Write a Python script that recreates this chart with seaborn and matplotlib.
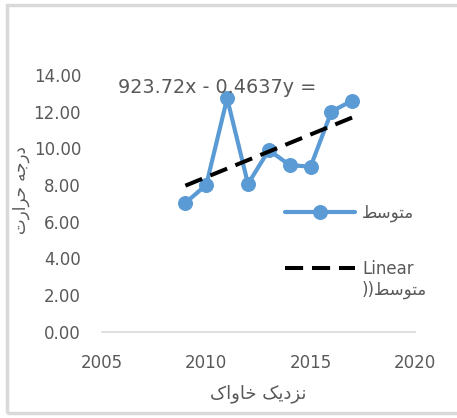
import numpy as np
import pandas as pd
import matplotlib
matplotlib.use("Agg")
import matplotlib.pyplot as plt
import seaborn as sns
from matplotlib.patches import Rectangle

# values
years = [2009, 2010, 2011, 2012, 2013, 2014, 2015, 2016, 2017]
avg_values = [7.03, 8.00, 12.72, 8.06, 9.90, 9.08, 9.00, 12.00, 12.60]
y_ticks = [0, 2, 4, 6, 8, 10, 12, 14]
x_ticks = [2005, 2010, 2015, 2020]

# Persian text in visual (pre-shaped) order, since matplotlib has no bidi shaping
label_avg = "\uFEC2\uFEB3\uFEEE\uFE98\uFEE3"                 # متوسط
label_trend = "Linear"
label_trend_2 = "))" + label_avg                             # second line: (متوسط)
x_title = "\uFB8E\uFE8D\uFEED\uFE8E\uFEA7 \uFB8F\uFBFE\uFEA9\uFEB0\uFEE7"  # نزدیک خاواک
y_title = "\uFE95\uFEAD\uFE8D\uFEAE\uFEA3 \uFEEA\uFE9F\uFEAD\uFEA9"         # درجه حرارت
equation = "923.72x - 0.4637y ="

df = pd.DataFrame({"year": years, "avg": avg_values})

sns.set_theme(style="white")
plt.rcParams['font.family'] = ['DejaVu Sans']
gray = "#595959"

fig = plt.figure(figsize=(4.57, 4.18), dpi=100)
ax = fig.add_axes([0.223, 0.206, 0.685, 0.615])

sns.lineplot(data=df, x="year", y="avg", ax=ax, color="#5B9BD5", linewidth=3.0,
             marker="o", markersize=10, markeredgecolor="#5B9BD5", label=label_avg)
sns.regplot(data=df, x="year", y="avg", ax=ax, scatter=False, ci=None, truncate=True,
            line_kws=dict(color="black", linewidth=2.9, linestyle=(0, (4.5, 2.2))),
            label=label_trend)

ax.set_xlim(2005, 2020)
ax.set_ylim(0, 14)
ax.set_xticks(x_ticks)
ax.set_yticks(y_ticks)
ax.set_yticklabels([f"{v:.2f}" for v in y_ticks])
ax.tick_params(axis="y", colors=gray, labelsize=12, length=0, pad=15)
ax.tick_params(axis="x", colors=gray, labelsize=12, length=0, pad=16)
ax.grid(False)
for side in ["top", "right", "left"]:
    ax.spines[side].set_visible(False)
ax.spines["bottom"].set_color("#d9d9d9")
ax.spines["bottom"].set_linewidth(1.2)

ax.set_xlabel(x_title, fontsize=13, color=gray, labelpad=9)
ax.set_ylabel(y_title, fontsize=12, color=gray)
ax.yaxis.set_label_coords(-0.23, 0.55)

ax.text(0.367, 0.95, equation, transform=ax.transAxes, ha="center", va="center",
        fontsize=13.8, color=gray)

handles = ax.get_lines()[:2]
leg = ax.legend(handles, [label_avg, label_trend], loc="upper left",
                bbox_to_anchor=(0.585, 0.50), frameon=False, fontsize=12,
                labelcolor=gray, handlelength=4.2, labelspacing=2.3,
                handletextpad=0.42, borderpad=0, borderaxespad=0)

# second line of the trendline legend label, placed under "Linear"
fig.canvas.draw()
bb = leg.get_texts()[1].get_window_extent().transformed(ax.transAxes.inverted())
ax.text(bb.x0, bb.y0 - 0.01, label_trend_2, transform=ax.transAxes, ha="left", va="top",
        fontsize=12, color=gray)

# chart area border
fig.patches.append(Rectangle((0.016, 0.012), 1.2, 0.976, transform=fig.transFigure,
                             fill=False, edgecolor="#d9d9d9", linewidth=2.5))

fig.savefig("out.png", dpi=100)
